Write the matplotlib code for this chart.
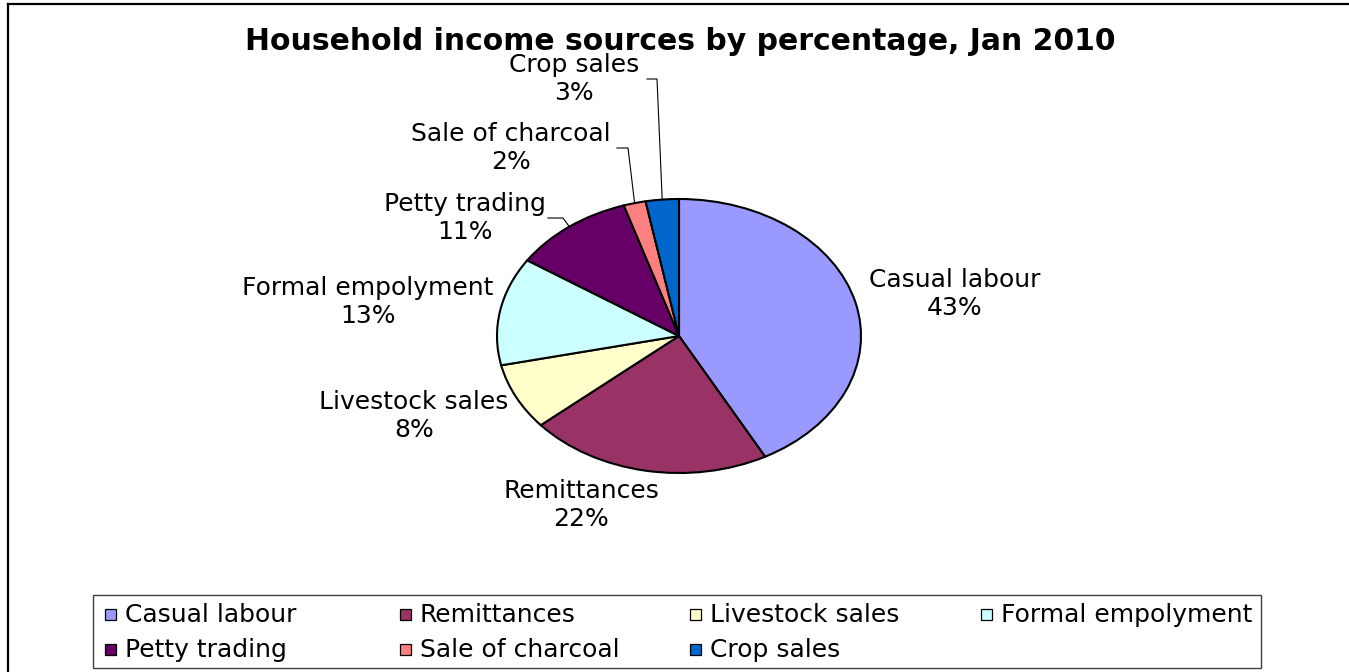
import numpy as np
import matplotlib
matplotlib.use("Agg")
import matplotlib.pyplot as plt
from matplotlib.patches import Rectangle
from matplotlib.lines import Line2D

# ---- data -------------------------------------------------------------
categories = ["Casual labour", "Remittances", "Livestock sales", "Formal empolyment",
              "Petty trading", "Sale of charcoal", "Crop sales"]
percentages = [43, 22, 8, 13, 11, 2, 3]
colors = ["#9999FF", "#993366", "#FFFFCC", "#CCFFFF", "#660066", "#FF8080", "#0066CC"]
title = "Household income sources by percentage, Jan 2010"

# ---- layout (pixels, origin at top-left) -------------------------------
W, H = 1349, 672
CX, CY, RX, RY = 679, 336, 182, 137          # pie centre and radii

def to_data(px, py):
    return (px - CX) / RX, (CY - py) / RY

# label block centres
label_px = {
    "Casual labour": (955, 294),
    "Remittances": (581, 505),
    "Livestock sales": (414, 416),
    "Formal empolyment": (368, 302),
    "Petty trading": (465, 218),
    "Sale of charcoal": (511, 148),
    "Crop sales": (574, 79),
}
# leader lines: (start x, elbow x) of horizontal run at label centre height
leader_px = {
    "Petty trading": (548, 563),
    "Sale of charcoal": (617, 628),
    "Crop sales": (647, 657),
}

FONT = "DejaVu Sans"
plt.rcParams["font.family"] = [FONT]

fig = plt.figure(figsize=(W / 100, H / 100), dpi=100)
ax = fig.add_axes([0, 0, 1, 1])

wedges, _ = ax.pie(percentages, colors=colors, startangle=90, counterclock=False,
                   wedgeprops=dict(edgecolor="black", linewidth=1.5))
ax.set_xlim(-CX / RX, (W - CX) / RX)
ax.set_ylim(-(H - CY) / RY, CY / RY)
ax.set_aspect("auto")
ax.axis("off")

# data labels
for name, pct, w in zip(categories, percentages, wedges):
    lx, ly = to_data(*label_px[name])
    ax.text(lx, ly, f"{name}\n{pct}%", ha="center", va="center",
            fontsize=18, linespacing=1.2, color="black")
    if name in leader_px:
        mid = np.deg2rad((w.theta1 + w.theta2) / 2)
        ex, ey = np.cos(mid), np.sin(mid)
        sx, _ = to_data(leader_px[name][0], 0)
        kx, _ = to_data(leader_px[name][1], 0)
        ax.plot([sx, kx, ex], [ly, ly, ey], color="black", lw=0.8)

# title
fig.text(680 / W, 1 - 50 / H, title, ha="center", va="baseline",
         fontsize=21.5, fontweight="bold")

# outer chart frame (left and top edges visible)
fig.add_artist(Line2D([8 / W, 8 / W], [-0.05, 1 - 4 / H], transform=fig.transFigure,
                      color="black", lw=1.6))
fig.add_artist(Line2D([8 / W, 1.05], [1 - 4 / H, 1 - 4 / H], transform=fig.transFigure,
                      color="black", lw=1.6))

# legend box
LX0, LY0, LX1, LY1 = 93, 595, 1261, 668
fig.add_artist(Rectangle((LX0 / W, 1 - LY1 / H), (LX1 - LX0) / W, (LY1 - LY0) / H,
                         transform=fig.transFigure, facecolor="white",
                         edgecolor="#404040", lw=1.0))
col_x = [105, 400, 690, 981]
row_y = [615, 650]
ncol = 4
for i, (name, c) in enumerate(zip(categories, colors)):
    r, k = divmod(i, ncol)
    hx, hy = col_x[k], row_y[r]
    fig.add_artist(Rectangle((hx / W, 1 - (hy + 5) / H), 11 / W, 11 / H,
                             transform=fig.transFigure, facecolor=c,
                             edgecolor="black", lw=0.9))
    fig.text((hx + 20) / W, 1 - (hy + 7) / H, name, ha="left", va="baseline",
             fontsize=18)

fig.savefig("out.png", dpi=100, facecolor="white")
